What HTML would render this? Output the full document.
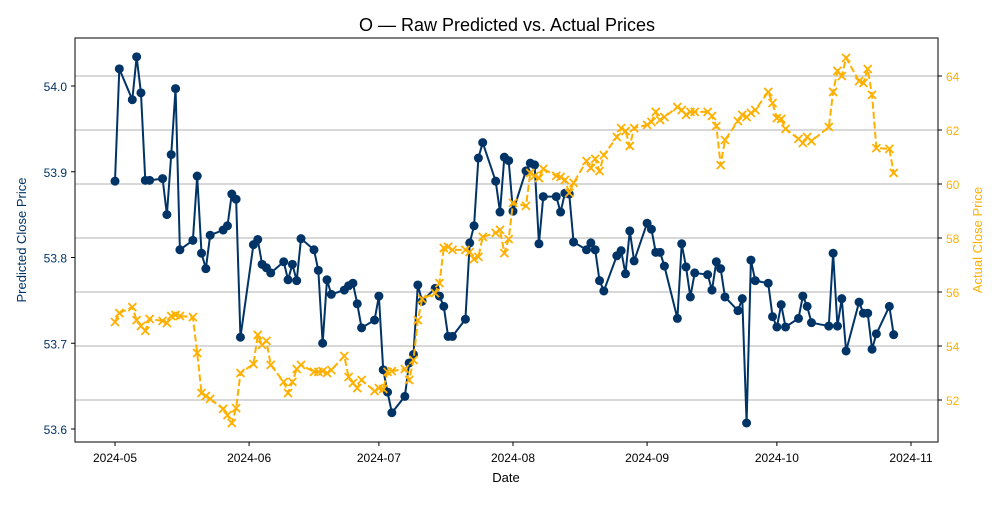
<!DOCTYPE html>
<html><head><meta charset="utf-8"><style>
body{margin:0;background:#fff;font-family:"Liberation Sans",sans-serif}
svg text{font-family:"Liberation Sans",sans-serif}
</style></head><body>
<svg id="chart" width="1000" height="500" xmlns="http://www.w3.org/2000/svg">
<text x="507" y="31" text-anchor="middle" font-size="18">O — Raw Predicted vs. Actual Prices</text>
<text x="506" y="482" text-anchor="middle" font-size="13">Date</text>
<text transform="translate(26,240) rotate(-90)" text-anchor="middle" font-size="13" fill="#003366">Predicted Close Price</text>
<text transform="translate(982,240) rotate(-90)" text-anchor="middle" font-size="13" fill="#ffb000">Actual Close Price</text>
<g id="grid"></g><g id="axes"></g><g id="series"></g>
<rect x="75" y="38" width="863" height="404" fill="none" stroke="#000" stroke-width="1"/>
</svg>
<script>
const baseDate = "2024-05-01";
const dayOffsets = [0,1,4,5,6,7,8,11,12,13,14,15,18,19,20,21,22,25,26,27,28,29,32,33,34,35,36,39,40,41,42,43,46,47,48,49,50,53,54,55,56,57,60,61,62,63,64,67,68,69,70,71,74,75,76,77,78,81,82,83,84,85,88,89,90,91,92,95,96,97,98,99,102,103,104,105,106,109,110,111,112,113,116,117,118,119,120,123,124,125,126,127,130,131,132,133,134,137,138,139,140,141,144,145,146,147,148,151,152,153,154,155,158,159,160,161,165,166,167,168,169,172,173,174,175,176,179,180];
const predicted = [53.889,54.020,53.984,54.034,53.992,53.890,53.890,53.892,53.850,53.920,53.997,53.809,53.820,53.895,53.805,53.787,53.826,53.832,53.837,53.874,53.868,53.707,53.815,53.821,53.792,53.788,53.782,53.795,53.774,53.792,53.773,53.822,53.809,53.785,53.700,53.774,53.757,53.762,53.767,53.770,53.746,53.718,53.727,53.755,53.669,53.643,53.619,53.638,53.677,53.687,53.768,53.749,53.764,53.755,53.743,53.708,53.708,53.728,53.817,53.837,53.916,53.934,53.889,53.853,53.917,53.913,53.854,53.901,53.910,53.908,53.816,53.871,53.871,53.853,53.875,53.874,53.818,53.809,53.817,53.809,53.773,53.761,53.802,53.808,53.781,53.831,53.796,53.840,53.833,53.806,53.806,53.790,53.729,53.816,53.789,53.754,53.782,53.780,53.762,53.795,53.787,53.754,53.738,53.752,53.607,53.797,53.773,53.770,53.731,53.719,53.745,53.719,53.729,53.755,53.743,53.724,53.720,53.805,53.720,53.752,53.691,53.748,53.735,53.735,53.693,53.711,53.743,53.710];
const actual = [54.89,55.22,55.44,54.96,54.74,54.56,55.00,54.93,54.85,55.11,55.15,55.11,55.07,53.74,52.26,52.15,52.04,51.67,51.44,51.15,51.70,53.00,53.33,54.41,54.04,54.19,53.30,52.67,52.26,52.67,53.15,53.30,53.04,53.04,53.07,53.00,53.11,53.63,52.85,52.63,52.44,52.74,52.33,52.44,52.41,53.04,53.07,53.15,52.74,53.48,54.96,55.74,55.96,56.33,57.63,57.67,57.56,57.56,57.48,57.22,57.30,58.04,58.19,58.30,57.44,57.96,59.30,59.19,60.41,60.30,60.22,60.56,60.30,60.26,60.15,59.67,60.04,60.85,60.59,60.93,60.48,61.07,61.74,62.07,61.96,61.41,62.07,62.19,62.30,62.67,62.37,62.48,62.85,62.74,62.56,62.67,62.67,62.67,62.52,62.15,60.70,61.63,62.33,62.56,62.48,62.63,62.74,63.41,63.00,62.44,62.41,62.04,61.67,61.52,61.74,61.59,62.11,63.41,64.19,64.00,64.67,63.81,63.74,64.26,63.30,61.33,61.30,60.41];
const leftTicks = [53.6,53.7,53.8,53.9,54.0];
const rightTicks = [52,54,56,58,60,62,64];
const xTickLabels = ["2024-05","2024-06","2024-07","2024-08","2024-09","2024-10","2024-11"];

const NS="http://www.w3.org/2000/svg";
const base=Date.parse(baseDate+"T00:00:00Z");
const dayOf=s=>(Date.parse(s+"-01T00:00:00Z")-base)/864e5;
const xS=d=>115+d*4.326;
const yL=v=>86+(54.0-v)*857.5;
const yR=v=>76+(64-v)*27;
function mk(tag,attrs,parent,txt){const e=document.createElementNS(NS,tag);for(const k in attrs)e.setAttribute(k,attrs[k]);if(txt!==undefined)e.textContent=txt;parent.appendChild(e);return e;}
const grid=document.getElementById('grid'),axes=document.getElementById('axes'),ser=document.getElementById('series');
rightTicks.forEach(v=>{const y=yR(v);
 const g=mk('line',{x1:75,x2:938,y1:y,y2:y,stroke:'#b0b0b0','stroke-width':1},grid);
 
 
 mk('line',{x1:938,x2:942,y1:y,y2:y,stroke:'#000'},axes);
 const t=mk('text',{x:946,y:y+5,'font-size':12,fill:'#ffb000'},axes,String(v));
 
 
});
leftTicks.forEach(v=>{const y=yL(v);
 mk('line',{x1:71,x2:75,y1:y,y2:y,stroke:'#000'},axes);
 const t=mk('text',{x:67,y:y+5,'font-size':12,'text-anchor':'end',fill:'#003366'},axes,v.toFixed(1));
 
 
});
xTickLabels.forEach(s=>{const x=xS(dayOf(s));
 mk('line',{x1:x,x2:x,y1:442,y2:446,stroke:'#000'},axes);
 const t=mk('text',{x:x,y:462,'font-size':12,'text-anchor':'middle'},axes,s);
 
 
});
const pp=dayOffsets.map((d,i)=>[xS(d),yL(predicted[i])]);
const ap=dayOffsets.map((d,i)=>[xS(d),yR(actual[i])]);
const pl=mk('polyline',{points:pp.map(p=>p.join(',')).join(' '),fill:'none',stroke:'#003366','stroke-width':2},ser);


pp.forEach(p=>{const c=mk('circle',{cx:p[0],cy:p[1],r:4.5,fill:'#003366'},ser);
 
 });
const al=mk('polyline',{points:ap.map(p=>p.join(',')).join(' '),fill:'none',stroke:'#ffb000','stroke-width':2,'stroke-dasharray':'7,3'},ser);


ap.forEach(p=>{const s=4;const g=mk('path',{d:`M${p[0]-s},${p[1]-s}L${p[0]+s},${p[1]+s}M${p[0]-s},${p[1]+s}L${p[0]+s},${p[1]-s}`,stroke:'#ffb000','stroke-width':1.8,fill:'none'},ser);
 
 });
</script>
</body></html>
